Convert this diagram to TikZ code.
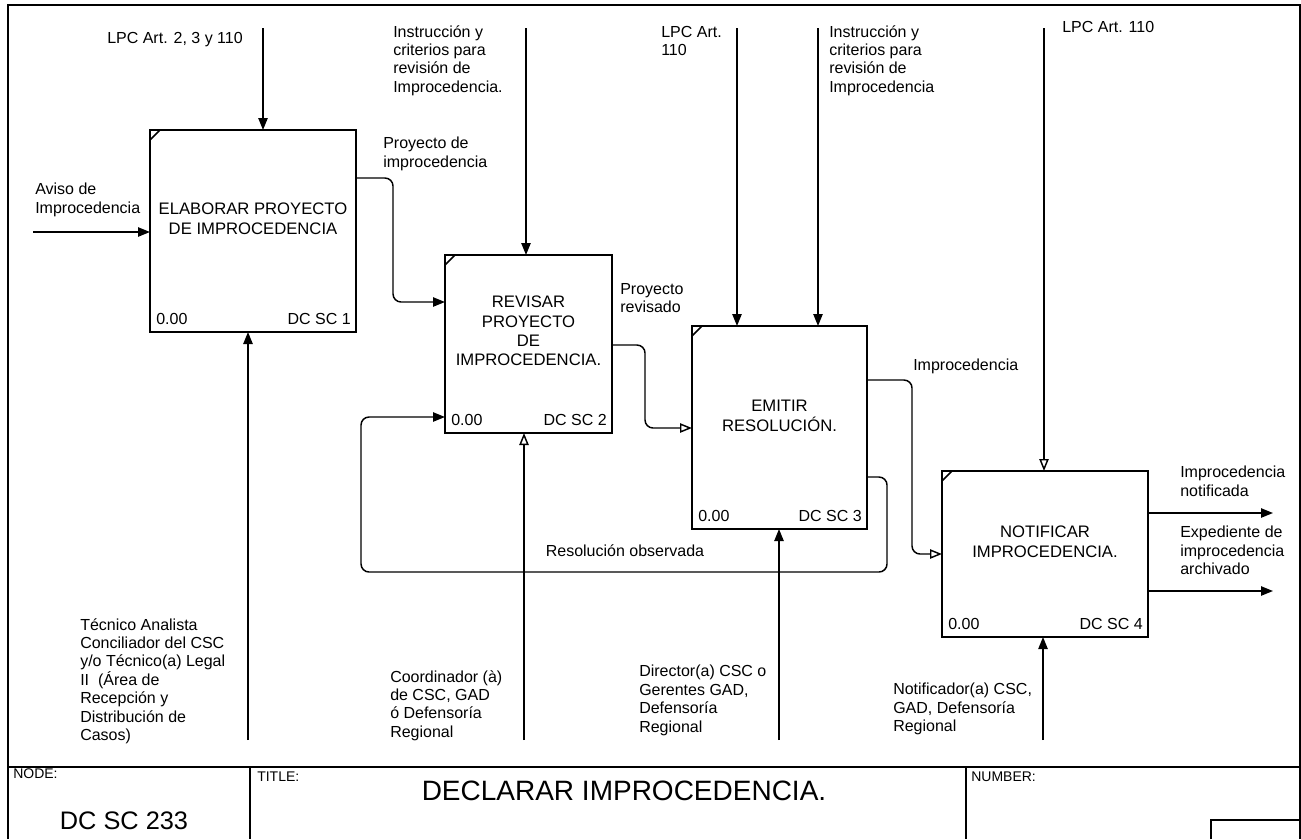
\documentclass[tikz,border=0pt]{standalone}
\usepackage{fontspec}
\setmainfont{Liberation Sans}
\usetikzlibrary{arrows.meta,calc}

\begin{document}
\begin{tikzpicture}[x=0.75pt,y=-0.75pt,
  frameline/.style={line width=1.5pt},
  act/.style={draw, line width=1.6pt, inner sep=0pt, outer sep=0pt},
  flow/.style={line width=1.1pt, rounded corners=6pt, -{Triangle[length=9pt,width=7pt]}},
  oflow/.style={line width=1.1pt, rounded corners=6pt, -{Triangle[open,length=9pt,width=7pt]}},
  lbl/.style={font=\fontsize{12}{13.8}\selectfont, align=left, inner sep=0pt, anchor=north west,
    execute at begin node={\rule{0pt}{9.5pt}}},
  ttl/.style={font=\fontsize{12.5}{14.5}\selectfont, align=center, inner sep=0pt, anchor=north,
    execute at begin node={\rule{0pt}{9.5pt}}},
  corner/.style={font=\fontsize{12}{14}\selectfont, inner sep=0pt},
  tb/.style={font=\fontsize{10.5}{12}\selectfont, inner sep=0pt, anchor=base west}]

\useasboundingbox (0,0) rectangle (1301,839);

% outer frame and title block
\draw[frameline] (8,839) -- (8,5) -- (1300,5) -- (1300,839);
\draw[frameline] (8,767) -- (1300,767);
\draw[frameline] (250,767) -- (250,839);
\draw[frameline] (966,767) -- (966,839);
\draw[line width=1.2pt] (1211,839) -- (1211,820) -- (1300,820);
\node[tb] (nodelbl) at (13,778) {NODE:};
\node[tb] (titlelbl) at (257,781) {TITLE:};
\node[tb] (numlbl) at (971,781) {NUMBER:};
\node[font=\fontsize{19}{22}\selectfont, inner sep=0pt, anchor=base] (nodeid) at (124,829) {DC SC 233};
\node[font=\fontsize{21}{24}\selectfont, inner sep=0pt, anchor=base] (title) at (624,800) {DECLARAR IMPROCEDENCIA.};

% activity boxes
\node[act, minimum width=154.5pt, minimum height=151.5pt] (b1) at (253,231) {};
\node[act, minimum width=125.25pt, minimum height=133.5pt] (b2) at (528.5,344) {};
\node[act, minimum width=131.25pt, minimum height=152.25pt] (b3) at (779.5,427.5) {};
\node[act, minimum width=154.5pt, minimum height=124.5pt] (b4) at (1045,554) {};

\foreach \b in {b1,b2,b3,b4}{
  \draw[line width=1.1pt] ($(\b.north west)+(0,10)$) -- ($(\b.north west)+(10,0)$);
}

\node[ttl] (t1) at ($(b1.north)+(0,73)$) {ELABORAR PROYECTO\\DE IMPROCEDENCIA};
\node[ttl] (t2) at ($(b2.north)+(0,41)$) {REVISAR\\PROYECTO\\DE\\IMPROCEDENCIA.};
\node[ttl] (t3) at ($(b3.north)+(0,74)$) {EMITIR\\RESOLUCIÓN.};
\node[ttl] (t4) at ($(b4.north)+(0,55)$) {NOTIFICAR\\IMPROCEDENCIA.};

\node[corner, anchor=base west] (n1) at ($(b1.south west)+(6,-8)$) {0.00};
\node[corner, anchor=base east] (d1) at ($(b1.south east)+(-5,-8)$) {DC SC 1};
\node[corner, anchor=base west] (n2) at ($(b2.south west)+(6,-8)$) {0.00};
\node[corner, anchor=base east] (d2) at ($(b2.south east)+(-5,-8)$) {DC SC 2};
\node[corner, anchor=base west] (n3) at ($(b3.south west)+(6,-8)$) {0.00};
\node[corner, anchor=base east] (d3) at ($(b3.south east)+(-5,-8)$) {DC SC 3};
\node[corner, anchor=base west] (n4) at ($(b4.south west)+(6,-8)$) {0.00};
\node[corner, anchor=base east] (d4) at ($(b4.south east)+(-5,-8)$) {DC SC 4};

% free ends and bends of the arrows
\coordinate (c1) at (263,28);
\coordinate (c2) at (526,28);
\coordinate (c3) at (737,28);
\coordinate (c4) at (818,28);
\coordinate (c5) at (1044,28);
\coordinate (i1) at (33,232);
\coordinate (m1) at (248,740);
\coordinate (m2) at (524,740);
\coordinate (m3) at (779,740);
\coordinate (m4) at (1043,740);
\coordinate (o1) at (1273,513);
\coordinate (o2) at (1273,591);
\coordinate (k1) at (393,178);
\coordinate (k2) at (393,302);
\coordinate (k3) at (645,345);
\coordinate (k4) at (645,428);
\coordinate (k5) at (912,380);
\coordinate (k6) at (912,554);
\coordinate (k7) at (887,477);
\coordinate (k8) at (887,572);
\coordinate (k9) at (361,572);
\coordinate (k10) at (361,417);

% controls
\draw[flow] (c1) -- (c1 |- b1.north);
\draw[flow] (c2) -- (c2 |- b2.north);
\draw[flow] (c3) -- (c3 |- b3.north);
\draw[flow] (c4) -- (c4 |- b3.north);
\draw[oflow] (c5) -- (c5 |- b4.north);

% inputs and outputs
\draw[flow] (i1) -- (i1 -| b1.west);
\draw[flow] (k1 -| b1.east) -- (k1) -- (k2) -- (k2 -| b2.west);
\draw[oflow] (k3 -| b2.east) -- (k3) -- (k4) -- (k4 -| b3.west);
\draw[oflow] (k5 -| b3.east) -- (k5) -- (k6) -- (k6 -| b4.west);
\draw[flow] (k7 -| b3.east) -- (k7) -- (k8) -- (k9) -- (k10) -- (k10 -| b2.west);
\draw[flow] (o1 -| b4.east) -- (o1);
\draw[flow] (o2 -| b4.east) -- (o2);

% mechanisms
\draw[flow] (m1) -- (m1 |- b1.south);
\draw[oflow] (m2) -- (m2 |- b2.south);
\draw[flow] (m3) -- (m3 |- b3.south);
\draw[flow] (m4) -- (m4 |- b4.south);

% arrow labels
\node[lbl] (lc1) at (107,31) {LPC Art. 2, 3 y 110};
\node[lbl] (lc2) at (393,25) {Instrucción y\\criterios para\\revisión de\\Improcedencia.};
\node[lbl] (lc3) at (661,26) {LPC Art.\\110};
\node[lbl] (lc4) at (829,25) {Instrucción y\\criterios para\\revisión de\\Improcedencia};
\node[lbl] (lc5) at (1062,20) {LPC Art. 110};
\node[lbl] (li1) at (35,183) {Aviso de\\Improcedencia};
\node[lbl] (lk1) at (383,137) {Proyecto de\\improcedencia};
\node[lbl] (lk3) at (620,283) {Proyecto\\revisado};
\node[lbl] (lk5) at (913,358) {Improcedencia};
\node[lbl, anchor=north] (lk7) at (625,544) {Resolución observada};
\node[lbl] (lo1) at (1180,466) {Improcedencia\\notificada};
\node[lbl] (lo2) at (1180,526) {Expediente de\\improcedencia\\archivado};
\node[lbl] (lm1) at (80,618) {Técnico Analista\\Conciliador del CSC\\y/o Técnico(a) Legal\\II\ \ (Área de\\Recepción y\\Distribución de\\Casos)};
\node[lbl] (lm2) at (390,670) {Coordinador (à)\\de CSC, GAD\\ó Defensoría\\Regional};
\node[lbl] (lm3) at (639,665) {Director(a) CSC o\\Gerentes GAD,\\Defensoría\\Regional};
\node[lbl] (lm4) at (893,683) {Notificador(a) CSC,\\GAD, Defensoría\\Regional};

\end{tikzpicture}
\end{document}
